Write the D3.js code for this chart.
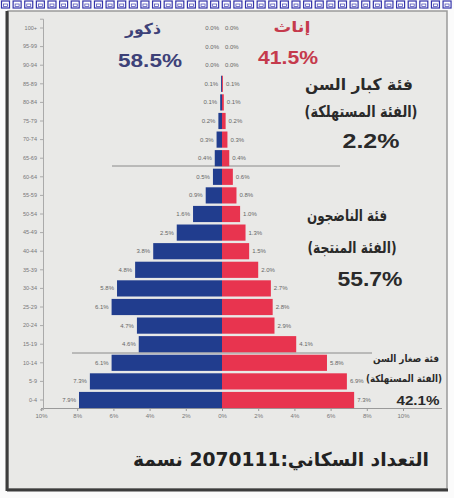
<!DOCTYPE html>
<html>
<head>
<meta charset="utf-8">
<script src="https://cdn.jsdelivr.net/npm/d3@7"></script>
<style>
  body { margin: 0; background: #fff; }
  svg { display: block; }
</style>
</head>
<body>
<div class="chart"></div>
<script>
var svgWidth = 454;
var svgHeight = 498;

// age groups, bottom to top
var ages = ['0-4', '5-9', '10-14', '15-19', '20-24', '25-29', '30-34', '35-39', '40-44', '45-49',
    '50-54', '55-59', '60-64', '65-69', '70-74', '75-79', '80-84', '85-89', '90-94', '95-99', '100+'];
var males = [7.9, 7.3, 6.1, 4.6, 4.7, 6.1, 5.8, 4.8, 3.8, 2.5, 1.6, 0.9, 0.5, 0.4, 0.3, 0.2, 0.1, 0.05, 0, 0, 0];
var females = [7.3, 6.9, 5.8, 4.1, 2.9, 2.8, 2.7, 2.0, 1.5, 1.3, 1.0, 0.8, 0.6, 0.4, 0.3, 0.2, 0.1, 0.05, 0, 0, 0];
var tickValues = [0, 2, 4, 6, 8, 10];

var center = 222;
var pxPerUnit = 18.1;

var svg = d3.select('.chart').append('svg')
    .attr('width', svgWidth)
    .attr('height', svgHeight);

// background + frame
svg.append('rect').attr('width', svgWidth).attr('height', svgHeight).attr('fill', '#fbfbfb');
svg.append('rect')
    .attr('x', 8).attr('y', 11).attr('width', 439).attr('height', 478)
    .attr('fill', '#e9e9e7')
    .attr('stroke', '#9a9a9a').attr('stroke-width', 1.5);
svg.append('line').attr('x1', 7).attr('x2', 7).attr('y1', 11).attr('y2', 491)
    .attr('stroke', '#3c3c3c').attr('stroke-width', 3);
svg.append('line').attr('x1', 7).attr('x2', 448).attr('y1', 490).attr('y2', 490)
    .attr('stroke', '#3c3c3c').attr('stroke-width', 3);

// little blue boxes along the top
var boxes = d3.range(0, 40);
svg.selectAll('rect.box')
    .data(boxes)
    .enter()
    .append('rect')
    .attr('class', 'box')
    .attr('x', function(d) { return 1.5 + d * 11.62; })
    .attr('y', 1)
    .attr('width', 8)
    .attr('height', 7)
    .attr('fill', '#ffffff')
    .attr('stroke', '#3333aa')
    .attr('stroke-width', 1.2);
svg.selectAll('rect.boxin')
    .data(boxes)
    .enter()
    .append('rect')
    .attr('class', 'boxin')
    .attr('x', function(d) { return 3.5 + d * 11.62; })
    .attr('y', 4)
    .attr('width', 4)
    .attr('height', 2.5)
    .attr('fill', 'none')
    .attr('stroke', '#5555bb')
    .attr('stroke-width', 0.8);

var y = d3.scaleBand()
    .domain(ages)
    .range([409.3, 18.7])
    .paddingInner(0.13)
    .paddingOuter(0.065);

var xMale = d3.scaleLinear().domain([0, 10]).range([center, center - 10 * pxPerUnit]);
var xFemale = d3.scaleLinear().domain([0, 10]).range([center, center + 10 * pxPerUnit]);

// group separators
svg.append('line').attr('x1', 112).attr('x2', 340).attr('y1', 166).attr('y2', 166)
    .attr('stroke', '#8a8a8a').attr('stroke-width', 1);
svg.append('line').attr('x1', 72).attr('x2', 372).attr('y1', 353).attr('y2', 353)
    .attr('stroke', '#8a8a8a').attr('stroke-width', 1);

// axes
var xAxisMale = d3.axisBottom(xMale).tickValues(tickValues).tickSize(3)
    .tickFormat(function(d) { return d + '%'; });
var xAxisFemale = d3.axisBottom(xFemale).tickValues(tickValues.slice(1)).tickSize(3)
    .tickFormat(function(d) { return d + '%'; });
var gx1 = svg.append('g').attr('transform', 'translate(0,408)').call(xAxisMale);
var gx2 = svg.append('g').attr('transform', 'translate(0,408)').call(xAxisFemale);
[gx1, gx2].forEach(function(g) {
    g.select('.domain').attr('stroke', '#9a9a9a');
    g.selectAll('.tick line').attr('stroke', '#9a9a9a');
    g.selectAll('.tick text')
        .attr('font-family', 'Liberation Sans, sans-serif')
        .attr('font-size', '6px')
        .attr('fill', '#777');
});
svg.append('line').attr('x1', 403).attr('x2', 442).attr('y1', 408.5).attr('y2', 408.5)
    .attr('stroke', '#9a9a9a');

var yAxis = d3.axisLeft(y).tickSize(3);
var gy = svg.append('g').attr('transform', 'translate(43,0)').call(yAxis);
gy.select('.domain').attr('stroke', '#aaa');
gy.selectAll('.tick line').attr('stroke', '#aaa');
gy.selectAll('.tick text')
    .attr('font-family', 'Liberation Sans, sans-serif')
    .attr('font-size', '5.5px')
    .attr('fill', '#777');

// bars
svg.selectAll('rect.male')
    .data(males)
    .enter()
    .append('rect')
    .attr('class', 'male')
    .attr('x', function(d) { return xMale(d); })
    .attr('y', function(d, i) { return y(ages[i]); })
    .attr('width', function(d) { return center - xMale(d); })
    .attr('height', y.bandwidth())
    .attr('fill', '#213d8e');

svg.selectAll('rect.female')
    .data(females)
    .enter()
    .append('rect')
    .attr('class', 'female')
    .attr('x', center)
    .attr('y', function(d, i) { return y(ages[i]); })
    .attr('width', function(d) { return xFemale(d) - center; })
    .attr('height', y.bandwidth())
    .attr('fill', '#e8344f');

// value labels
svg.selectAll('text.mlab')
    .data(males)
    .enter()
    .append('text')
    .attr('class', 'mlab')
    .text(function(d) { return d.toFixed(1) + '%'; })
    .attr('x', function(d) { return xMale(d) - 3; })
    .attr('y', function(d, i) { return y(ages[i]) + y.bandwidth() / 2 + 2; })
    .attr('text-anchor', 'end')
    .attr('font-family', 'Liberation Sans, sans-serif')
    .attr('font-size', '6px')
    .attr('fill', '#666');

svg.selectAll('text.flab')
    .data(females)
    .enter()
    .append('text')
    .attr('class', 'flab')
    .text(function(d) { return d.toFixed(1) + '%'; })
    .attr('x', function(d) { return xFemale(d) + 3; })
    .attr('y', function(d, i) { return y(ages[i]) + y.bandwidth() / 2 + 2; })
    .attr('font-family', 'Liberation Sans, sans-serif')
    .attr('font-size', '6px')
    .attr('fill', '#666');

// headings, squeezed to the widths seen in the picture
function label(txt, x, yy, size, color, len) {
    var t = svg.append('text')
        .text(txt)
        .attr('x', x)
        .attr('y', yy)
        .attr('text-anchor', 'middle')
        .attr('direction', 'rtl')
        .attr('font-family', 'DejaVu Sans, sans-serif')
        .attr('font-weight', 'bold')
        .attr('font-size', size + 'px')
        .attr('fill', color);
    if (len) t.attr('textLength', len).attr('lengthAdjust', 'spacingAndGlyphs');
    return t;
}
label('ذكور', 143, 34, 15, '#3d4178', 36);
label('58.5%', 150, 67, 19, '#3d4178', 64).attr('font-family', 'Liberation Sans, sans-serif');
label('إناث', 292, 32, 15, '#c53a4c', 37);
label('41.5%', 288, 64, 19, '#c53a4c', 60).attr('font-family', 'Liberation Sans, sans-serif');

label('فئة كبار السن', 359, 90, 16, '#2a2a2a', 108);
label('(الفئة المستهلكة)', 361, 117, 16, '#2a2a2a', 113);
label('2.2%', 371, 148, 20, '#2a2a2a', 57).attr('font-family', 'Liberation Sans, sans-serif');

label('فئة الناضجون', 347, 221, 16, '#2a2a2a', 80);
label('(الفئة المنتجة)', 352, 253, 16, '#2a2a2a', 89);
label('55.7%', 370, 286, 20, '#2a2a2a', 65).attr('font-family', 'Liberation Sans, sans-serif');

label('فئة صغار السن', 406, 362, 10, '#2a2a2a', 66);
label('(الفئة المستهلكة)', 404, 382, 10, '#2a2a2a', 76);
label('42.1%', 418, 405, 12, '#2a2a2a', 43).attr('font-family', 'Liberation Sans, sans-serif');

label('التعداد السكاني:2070111 نسمة', 281, 466, 19, '#222', 296);
</script>
</body>
</html>
